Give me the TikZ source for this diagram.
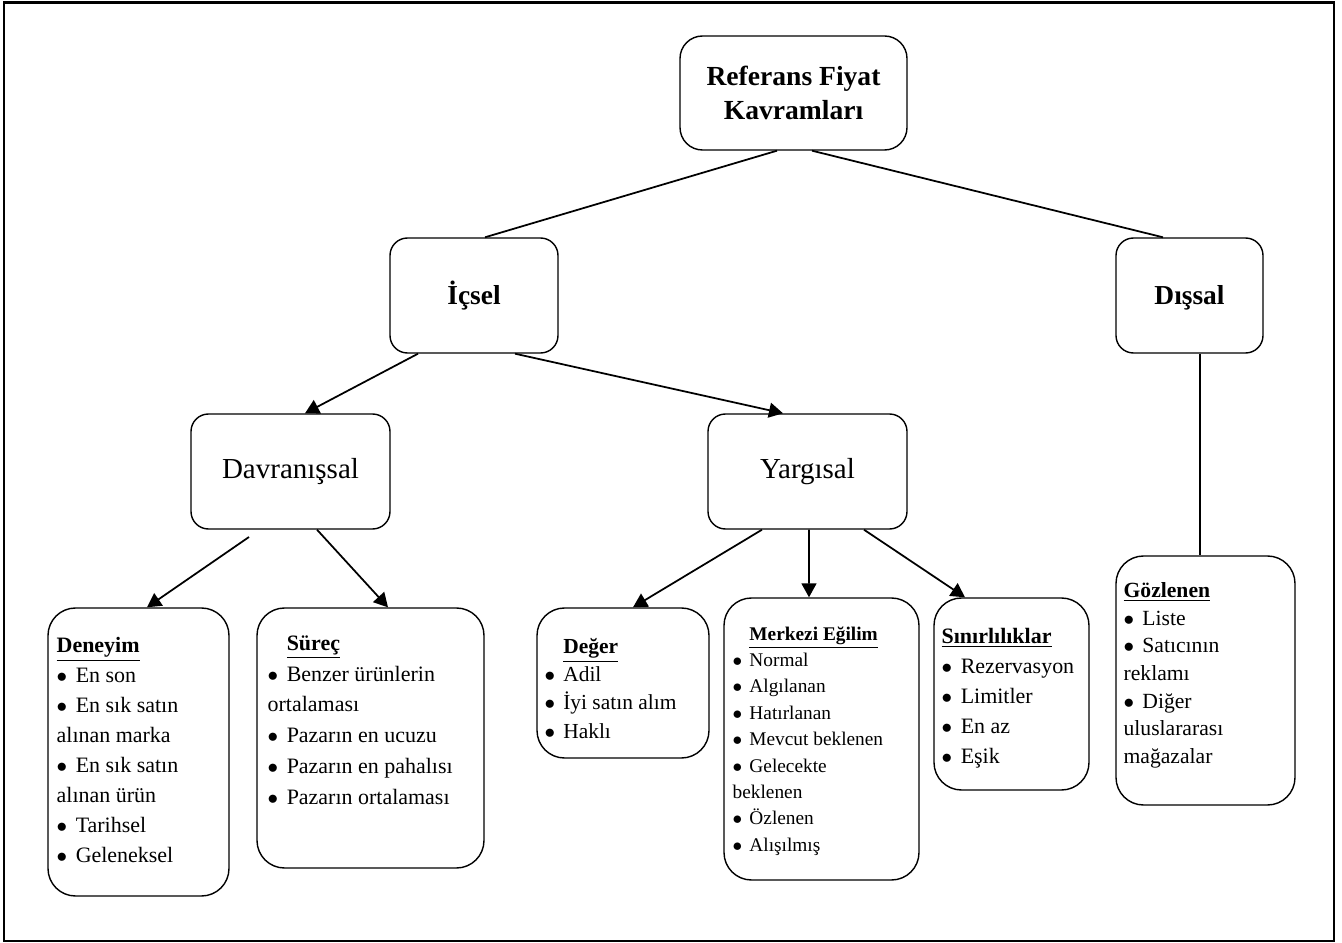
\documentclass[tikz,border=0pt]{standalone}
\usepackage{fontspec}
\setmainfont{Liberation Serif}
\usetikzlibrary{positioning}
\usetikzlibrary{arrows.meta}
\newcommand{\madde}{\makebox[0.87em][l]{$\bullet$}}
\tikzset{
  kutu/.style={draw, rounded corners=0.35cm, line width=0.8pt, inner sep=0pt, align=center},
  liste/.style={draw, rounded corners=0.55cm, line width=0.8pt, inner sep=0pt},
  listyazi/.style={inner sep=0pt, align=left},
  ok/.style={-{Triangle[length=0.28cm,width=0.3cm]}, line width=1pt},
  cizgi/.style={line width=1pt}
}

\begin{document}
\begin{tikzpicture}
     % cerceve
     \useasboundingbox (0,0) rectangle (26.84,-18.86);
     \draw[line width=1.4pt] (0.08,-0.05) rectangle (26.68,-18.82);
     % ust kutular
     \node[kutu, rounded corners=0.45cm, minimum width=4.54cm, minimum height=2.28cm, font=\fontsize{15.7}{19.4}\selectfont\bfseries] (kavram) at (15.87,-1.86) {Referans Fiyat\\Kavramları};
     \node[kutu, minimum width=3.36cm, minimum height=2.3cm, text height=1.32em, text depth=0.25em, font=\fontsize{15.6}{19}\selectfont\bfseries] (icsel) at (9.48,-5.91) {İçsel};
     \node[kutu, minimum width=2.94cm, minimum height=2.3cm, text height=1.32em, text depth=0.25em, font=\fontsize{15.6}{19}\selectfont\bfseries] (dissal) at (23.79,-5.91) {Dışsal};
     \node[kutu, minimum width=3.98cm, minimum height=2.3cm, font=\fontsize{16.5}{19}\selectfont] (davranis) at (5.81,-9.43) {Davranışsal};
     \node[kutu, minimum width=3.98cm, minimum height=2.3cm, font=\fontsize{16.5}{19}\selectfont] (yargi) at (16.15,-9.43) {Yargısal};
     % alt kutular
     \node[liste, minimum width=3.62cm, minimum height=5.76cm] (deneyim) at (2.77,-15.04) {};
     \node[liste, minimum width=4.54cm, minimum height=5.2cm] (surec) at (7.41,-14.76) {};
     \node[liste, minimum width=3.44cm, minimum height=3.0cm] (deger) at (12.46,-13.66) {};
     \node[liste, minimum width=3.9cm, minimum height=5.64cm] (merkezi) at (16.43,-14.78) {};
     \node[liste, minimum width=3.1cm, minimum height=3.84cm] (sinir) at (20.23,-13.88) {};
     \node[liste, minimum width=3.58cm, minimum height=4.98cm] (gozlenen) at (24.11,-13.61) {};
     % kutu yazilari
     \node[listyazi, font=\fontsize{12.5}{17}\selectfont, below right=0.6cm and 0.18cm of deneyim.north west] (deneyimyazi) {\underline{\textbf{Deneyim}}\\
       \madde En son\\ \madde En sık satın\\ alınan marka\\ \madde En sık satın\\ alınan ürün\\ \madde Tarihsel\\ \madde Geleneksel};
     \node[listyazi, font=\fontsize{12.5}{17.5}\selectfont, below right=0.56cm and 0.22cm of surec.north west] (surecyazi) {\hspace*{0.87em}\underline{\textbf{Süreç}}\\
       \madde Benzer ürünlerin\\ ortalaması\\ \madde Pazarın en ucuzu\\ \madde Pazarın en pahalısı\\ \madde Pazarın ortalaması};
     \node[listyazi, font=\fontsize{12.2}{16}\selectfont, below right=0.62cm and 0.16cm of deger.north west] (degeryazi) {\hspace*{0.87em}\underline{\textbf{Değer}}\\
       \madde Adil\\ \madde İyi satın alım\\ \madde Haklı};
     \node[listyazi, font=\fontsize{11}{15}\selectfont, below right=0.58cm and 0.18cm of merkezi.north west] (merkeziyazi) {\hspace*{0.87em}\underline{\textbf{Merkezi Eğilim}}\\
       \madde Normal\\ \madde Algılanan\\ \madde Hatırlanan\\ \madde Mevcut beklenen\\ \madde Gelecekte\\ beklenen\\ \madde Özlenen\\ \madde Alışılmış};
     \node[listyazi, font=\fontsize{12.5}{17}\selectfont, below right=0.62cm and 0.16cm of sinir.north west] (siniryazi) {\underline{\textbf{Sınırlılıklar}}\\
       \madde Rezervasyon\\ \madde Limitler\\ \madde En az\\ \madde Eşik};
     \node[listyazi, font=\fontsize{12.3}{15.7}\selectfont, below right=0.54cm and 0.16cm of gozlenen.north west] (gozlenenyazi) {\underline{\textbf{Gözlenen}}\\
       \madde Liste\\ \madde Satıcının\\ reklamı\\ \madde Diğer\\ uluslararası\\ mağazalar};
     % baglantilar
     \draw[cizgi] ([xshift=-0.33cm]kavram.south) -- ([xshift=0.22cm]icsel.north);
     \draw[cizgi] ([xshift=0.37cm]kavram.south) -- ([xshift=-0.53cm]dissal.north);
     \draw[ok] ([xshift=-1.12cm]icsel.south) -- ([xshift=0.29cm]davranis.north);
     \draw[ok] ([xshift=0.82cm]icsel.south) -- ([xshift=-0.49cm]yargi.north);
     \draw[cizgi] ([xshift=0.21cm]dissal.south) -- ([xshift=0.21cm]dissal.south |- gozlenen.north);
     \coordinate (davbas) at (4.98,-10.74);
     \draw[ok] (davbas) -- ([xshift=0.17cm]deneyim.north);
     \draw[ok] ([xshift=0.53cm]davranis.south) -- ([xshift=0.35cm]surec.north);
     \draw[ok] ([xshift=-0.91cm]yargi.south) -- ([xshift=0.2cm]deger.north);
     \draw[ok] ([xshift=0.03cm]yargi.south) -- ([xshift=-0.25cm]merkezi.north);
     \draw[ok] ([xshift=1.13cm]yargi.south) -- ([xshift=-0.93cm]sinir.north);
\end{tikzpicture}
\end{document}
